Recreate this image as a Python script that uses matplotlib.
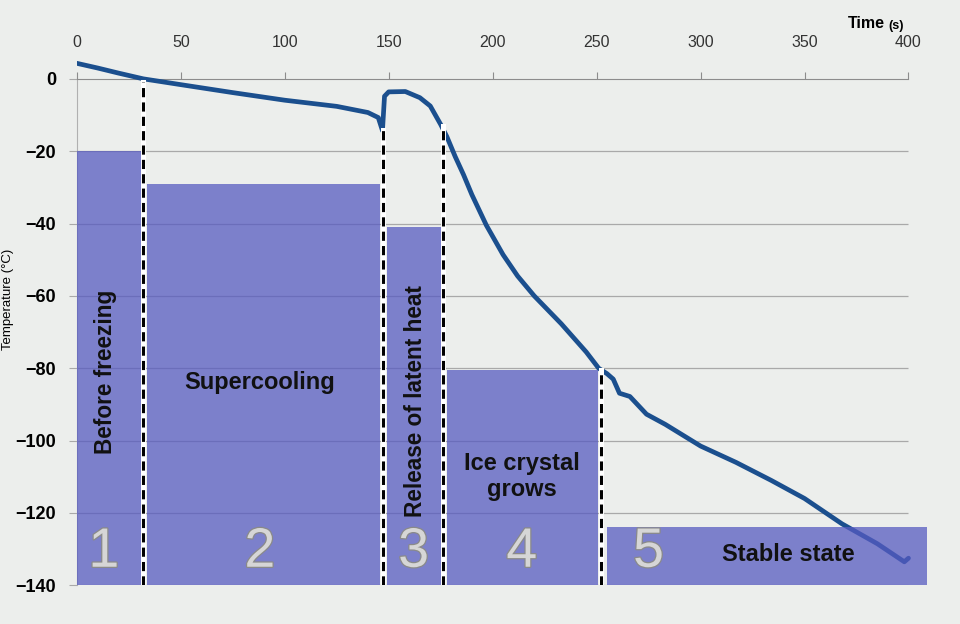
import matplotlib.pyplot as plt
import matplotlib.patheffects as pe

plt.rcParams['font.family'] = ['Liberation Sans', 'DejaVu Sans']

# temperature curve
time_s = [0, 10, 20, 32, 50, 75, 100, 125, 140, 145, 147, 148, 150, 158, 165, 170,
          175, 178, 182, 186, 190, 197, 205, 212, 220, 233, 245, 251, 255, 258, 261,
          266, 274, 283, 300, 317, 334, 350, 368, 385, 398, 400]
temp_c = [4.3, 3.0, 1.6, 0.0, -1.6, -3.8, -5.9, -7.6, -9.3, -10.7, -14.3, -4.8, -3.6,
          -3.5, -5.2, -7.5, -12.6, -16, -21.5, -26.5, -32, -40.5, -48.6, -54.5, -60,
          -67.7, -75.5, -80, -81.5, -83, -86.9, -87.8, -92.7, -95.5, -101.5, -106,
          -111, -116, -123, -128.5, -133.5, -132.5]

# phase blocks
phase_left = [0, 34, 149, 178, 255]
phase_right = [31, 146, 175, 250.5, 409]
phase_top = [-20, -29, -41, -80.5, -124]
phase_num = ['1', '2', '3', '4', '5']
num_x = [13, 88, 162, 214, 275]

# phase boundaries
bound_x = [32, 147.5, 176, 252]
bound_top = [-1, -14, -13, -80.5]

yticks = [0, -20, -40, -60, -80, -100, -120, -140]
xticks = [0, 50, 100, 150, 200, 250, 300, 350, 400]

bg = '#eceeec'
fig = plt.figure(figsize=(9.6, 6.24), dpi=100, facecolor=bg)
ax = fig.add_axes([0.08, 0.062, 0.888, 0.858])
ax.set_facecolor('none')
ax.set_xlim(0, 410)
ax.set_ylim(-140, 8)

# grid lines
ax.hlines(yticks[1:], 0, 400, color='#a9a9a9', lw=0.9, zorder=1)

ax.plot(time_s, temp_c, color='#1b4f8e', lw=3.4, solid_capstyle='round',
        solid_joinstyle='round', zorder=3)

ax.bar(phase_left, [t + 140 for t in phase_top], bottom=-140,
       width=[r - l for l, r in zip(phase_left, phase_right)], align='edge',
       color='#575bc1', alpha=0.75, lw=0, zorder=4)

for x, top in zip(bound_x, bound_top):
    ax.plot([x, x], [-140, top], color='white', lw=3.6, zorder=5)
    ax.plot([x, x], [-140, top], color='black', lw=2.2, ls=(0, (3, 1.7)), zorder=6)

for n, x in zip(phase_num, num_x):
    ax.text(x, -131, n, fontsize=40, color='#d6d6d6', ha='center', va='center', zorder=7,
            path_effects=[pe.withStroke(linewidth=1.8, foreground='#8a8a8a')])

lab = dict(fontweight='bold', color='#111111', zorder=7, ha='center', va='center')
ax.text(14, -81, 'Before freezing', rotation=90, fontsize=16.3, **lab)
ax.text(88, -84, 'Supercooling', fontsize=17, **lab)
ax.text(163, -89, 'Release of latent heat', rotation=90, fontsize=16.3, **lab)
ax.text(214, -110, 'Ice crystal\ngrows', fontsize=17, linespacing=1.15, **lab)
ax.text(342, -131.5, 'Stable state', fontsize=17, **lab)

# axes styling: x axis sits on the 0 line, labels on top
for s in ['right', 'bottom']:
    ax.spines[s].set_visible(False)
ax.spines['top'].set_position(('data', 0))
ax.spines['top'].set_bounds(0, 400)
ax.spines['top'].set_color('#8c8c8c')
ax.spines['left'].set_bounds(-140, 0)
ax.spines['left'].set_color('#b0b0b0')
ax.xaxis.tick_top()
ax.set_xticks(xticks)
ax.set_yticks(yticks)
ax.tick_params(axis='x', direction='out', length=5, color='#8c8c8c', pad=16,
               labelsize=11.5, labelcolor='#333333')
ax.tick_params(axis='y', direction='out', length=6, color='#a9a9a9', pad=9,
               labelsize=13)
for t in ax.get_yticklabels():
    t.set_fontweight('bold')

fig.text(0.922, 0.962, 'Time', fontsize=11.5, fontweight='bold', ha='right', va='center')
fig.text(0.925, 0.959, '(s)', fontsize=9, fontweight='bold', ha='left', va='center')
fig.text(0.002, 0.52, 'Temperature (°C)', fontsize=9.5, rotation=90, ha='left', va='center')

fig.savefig('out.png', dpi=100, facecolor=bg)
